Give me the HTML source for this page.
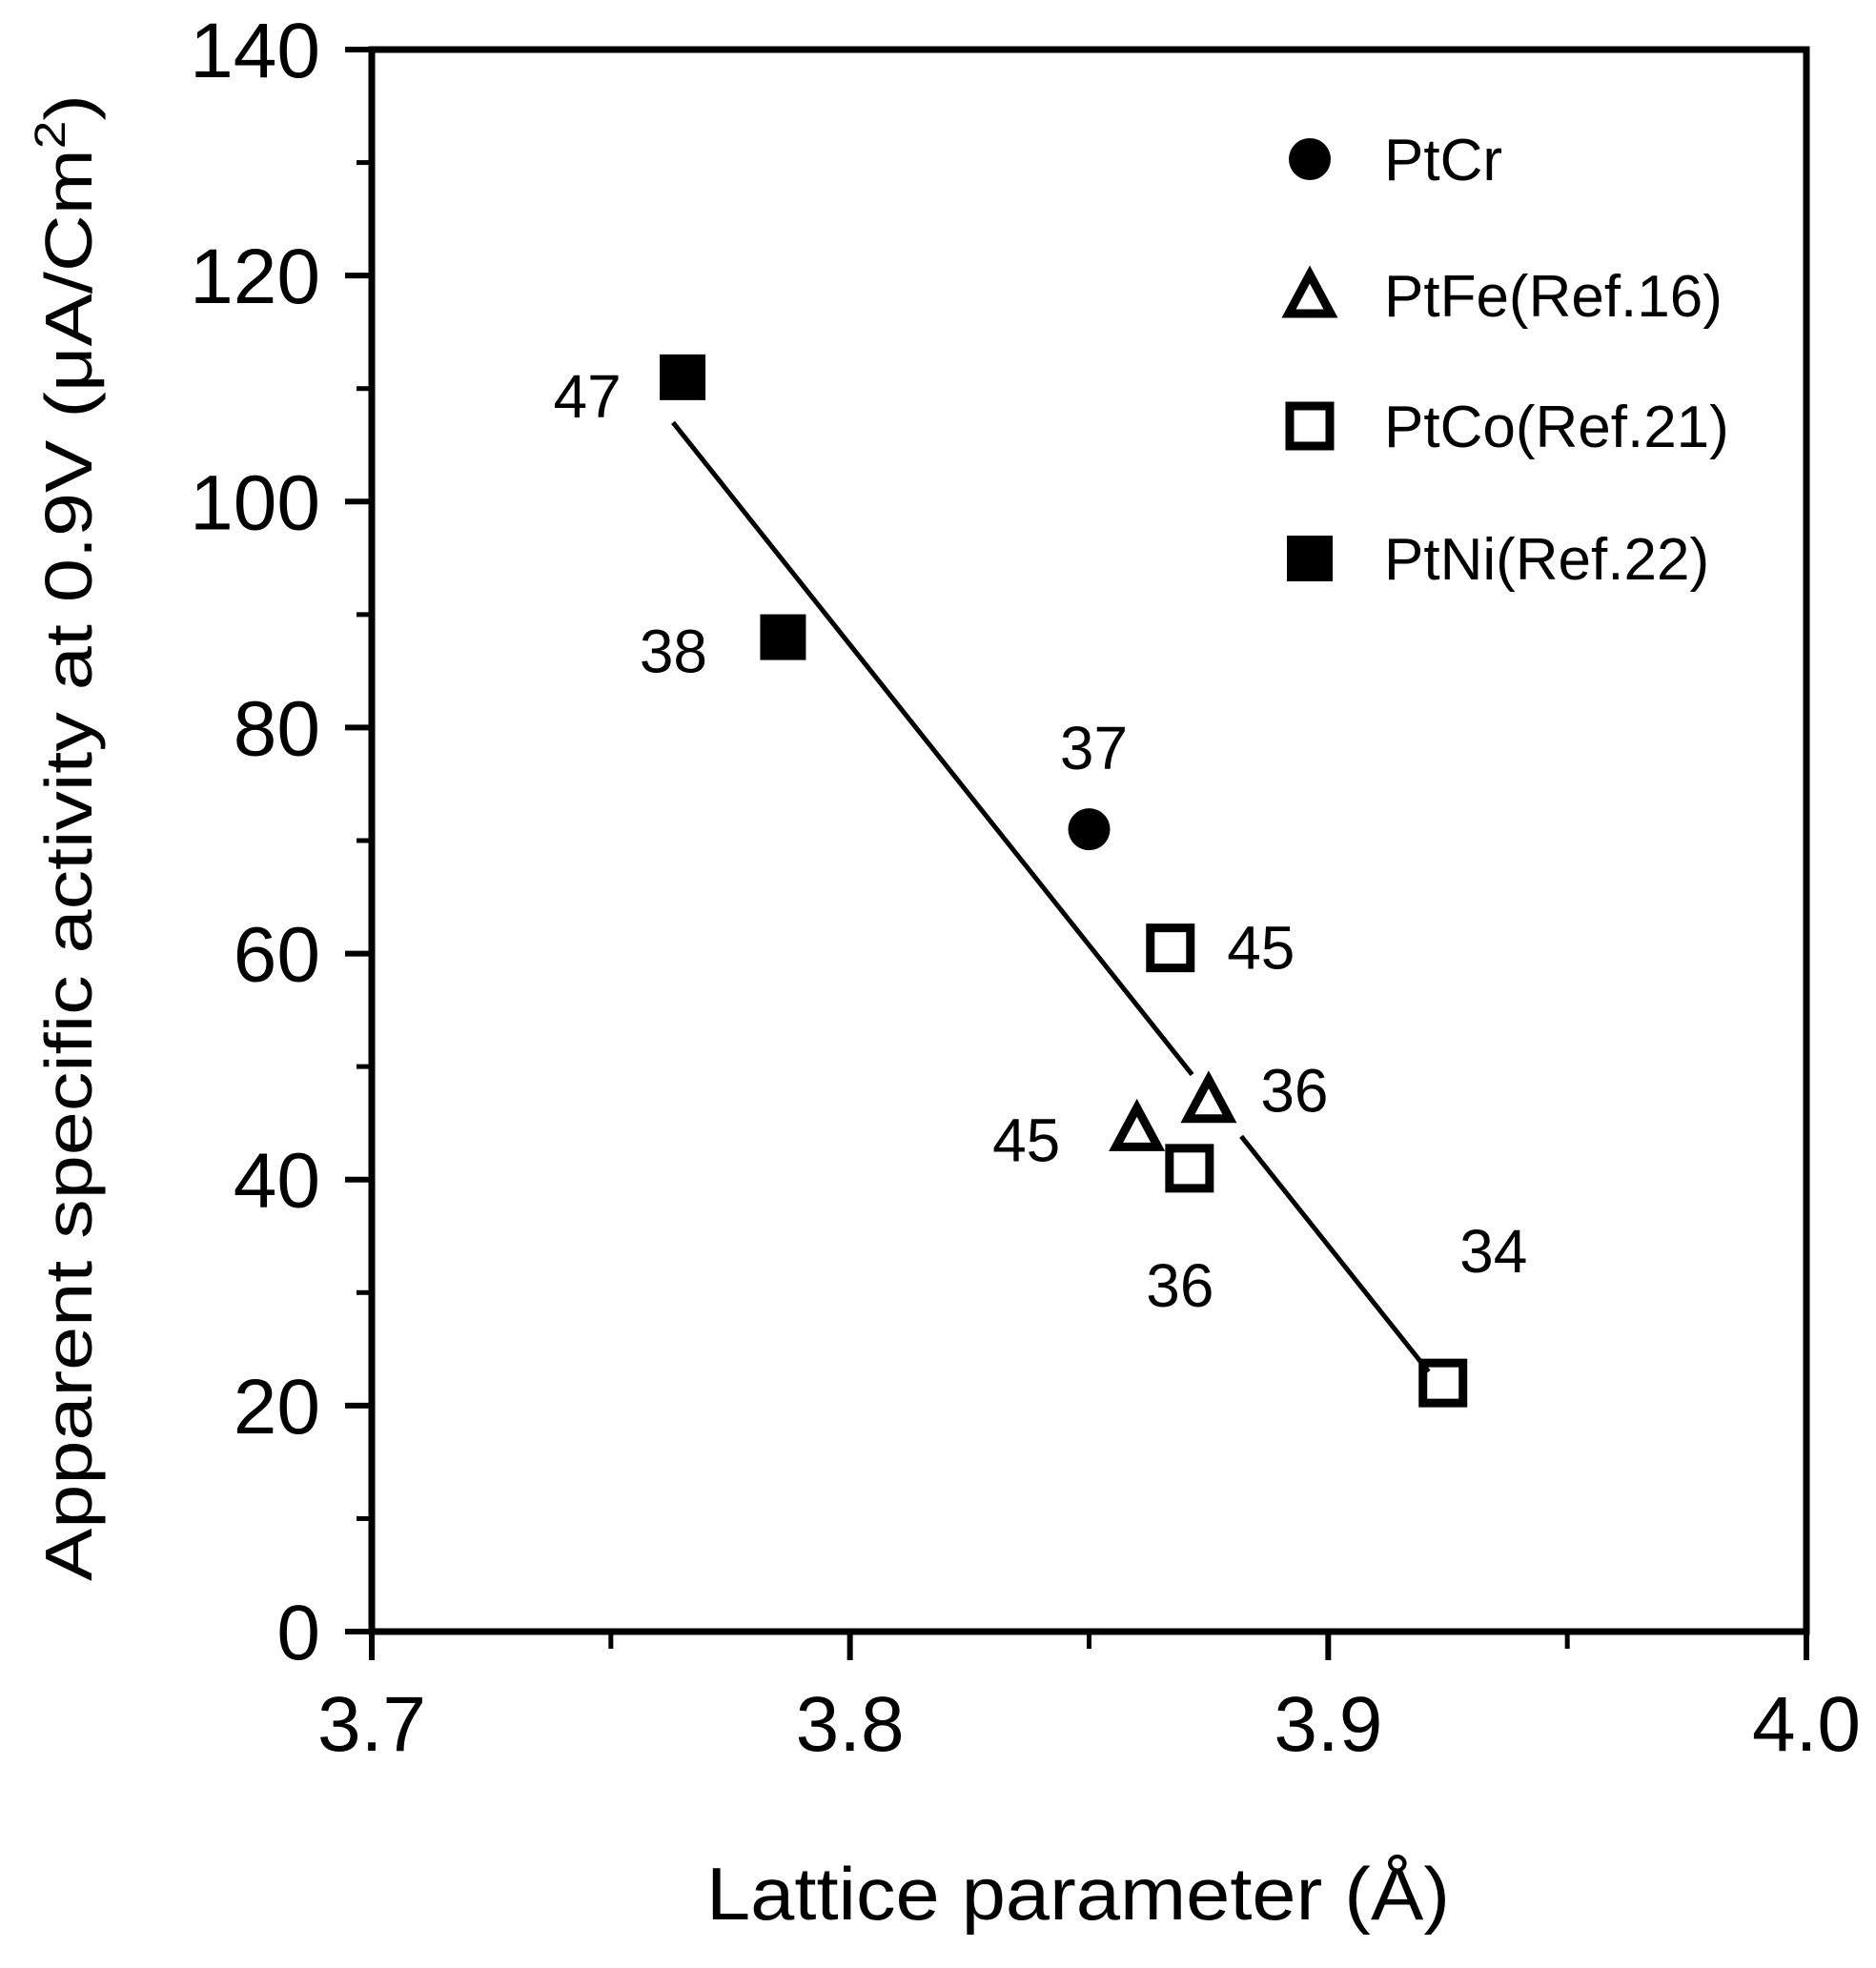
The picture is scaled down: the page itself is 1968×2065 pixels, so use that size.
<!DOCTYPE html>
<html><head><meta charset="utf-8"><style>html,body{margin:0;padding:0;background:#fff}svg{display:block}</style></head>
<body>
<svg id="chart" width="1968" height="2065" viewBox="0 0 1968 2065" xmlns="http://www.w3.org/2000/svg" font-family="'Liberation Sans', sans-serif">
<g id="axes"></g><g id="marks"></g><g id="legend"></g>
</svg>
<script>
const ptcrX=[3.850], ptcrY=[71], ptcrLbl=["37"];
const ptfeX=[3.860,3.875], ptfeY=[44.5,47], ptfeLbl=["45","36"];
const ptcoX=[3.867,3.871,3.924], ptcoY=[60.5,41,22], ptcoLbl=["45","36","34"];
const ptniX=[3.765,3.786], ptniY=[111,88], ptniLbl=["47","38"];
const fitX=[3.763,3.921], fitY=[107,23];
const xTicks=[3.7,3.8,3.9,4.0], xTickLabels=["3.7","3.8","3.9","4.0"];
const yTicks=[0,20,40,60,80,100,120,140], yTickLabels=["0","20","40","60","80","100","120","140"];
const legendNames=["PtCr","PtFe(Ref.16)","PtCo(Ref.21)","PtNi(Ref.22)"];
const L=390,R=1895,T=52,B=1712;
const sx=v=>L+(v-3.7)/0.3*(R-L), sy=v=>B-v/140*(B-T);
const NS="http://www.w3.org/2000/svg";
function mk(p,tag,a){const e=document.createElementNS(NS,tag);for(const k in a)e.setAttribute(k,a[k]);p.appendChild(e);return e;}
const ax=document.getElementById('axes'),mg=document.getElementById('marks'),lg=document.getElementById('legend');
let f=mk(ax,'rect',{x:L,y:T,width:R-L,height:B-T,fill:'none',stroke:'#000','stroke-width':7});


yTicks.forEach((v,i)=>{mk(ax,'line',{x1:L-28,x2:L,y1:sy(v),y2:sy(v),stroke:'#000','stroke-width':6});
 if(i<yTicks.length-1)mk(ax,'line',{x1:L-16,x2:L,y1:sy(v+10),y2:sy(v+10),stroke:'#000','stroke-width':5});
 const t=mk(ax,'text',{x:336,y:sy(v)+29,'font-size':82,'text-anchor':'end'});t.textContent=yTickLabels[i];
 
 });
xTicks.forEach((v,i)=>{mk(ax,'line',{x1:sx(v),x2:sx(v),y1:B,y2:B+30,stroke:'#000','stroke-width':6});
 if(i<xTicks.length-1)mk(ax,'line',{x1:sx(v+0.05),x2:sx(v+0.05),y1:B,y2:B+18,stroke:'#000','stroke-width':5});
 const t=mk(ax,'text',{x:sx(v),y:1837,'font-size':82,'text-anchor':'middle'});t.textContent=xTickLabels[i];
 
 });
let yt=mk(ax,'text',{x:0,y:0,'font-size':70,'text-anchor':'middle',transform:'translate(96,879) rotate(-90)',textLength:1560,lengthAdjust:'spacingAndGlyphs'});
yt.innerHTML='Apparent specific activity at 0.9V (μA/Cm<tspan font-size="45" dy="-28">2</tspan><tspan dy="28">)</tspan>';


let xt=mk(ax,'text',{x:1131,y:2014,'font-size':78,'text-anchor':'middle',textLength:780,lengthAdjust:'spacingAndGlyphs'});
xt.textContent='Lattice parameter (Å)';


const fx=t=>fitX[0]+t*(fitX[1]-fitX[0]), fy=t=>fitY[0]+t*(fitY[1]-fitY[0]);
[[0,0.687],[0.752,1]].forEach(s=>{const l=mk(mg,'line',{x1:sx(fx(s[0])),y1:sy(fy(s[0])),x2:sx(fx(s[1])),y2:sy(fy(s[1])),stroke:'#000','stroke-width':5});
 
 });
function marker(p,type,cx,cy){let e;
 if(type==='circle')e=mk(p,'circle',{cx:cx,cy:cy,r:22,fill:'#000'});
 else if(type==='tri')e=mk(p,'polygon',{points:`${cx},${cy-22} ${cx-22},${cy+19} ${cx+22},${cy+19}`,fill:'none',stroke:'#000','stroke-width':9,'stroke-linejoin':'miter'});
 else if(type==='osq')e=mk(p,'rect',{x:cx-21,y:cy-21,width:42,height:42,fill:'none',stroke:'#000','stroke-width':9});
 else e=mk(p,'rect',{x:cx-24,y:cy-24,width:48,height:48,fill:'#000'});
 return e;}
const lblOff={PtCr:[[5,-85]],PtFe:[[-116,12],[90,-10]],PtCo:[[95,0],[-10,123],[53,-138]],PtNi:[[-100,20],[-115,15]]};
function series(name,type,X,Y,lbl){X.forEach((x,i)=>{const m=marker(mg,type,sx(x),sy(Y[i]));
 
 
 const o=lblOff[name][i];const t=mk(mg,'text',{x:sx(x)+o[0],y:sy(Y[i])+o[1]+22,'font-size':64,'text-anchor':'middle'});t.textContent=lbl[i];
 
 });}
series('PtCr','circle',ptcrX,ptcrY,ptcrLbl);
series('PtFe','tri',ptfeX,ptfeY,ptfeLbl);
series('PtCo','osq',ptcoX,ptcoY,ptcoLbl);
series('PtNi','fsq',ptniX,ptniY,ptniLbl);
const lt=['circle','tri','osq','fsq'],ly=[167,310,447,586];
legendNames.forEach((n,i)=>{const m=marker(lg,lt[i],1374,ly[i]);
 
 
 const t=mk(lg,'text',{x:1452,y:ly[i]+22,'font-size':62});t.textContent=n;
 
 });
</script>
</body></html>
